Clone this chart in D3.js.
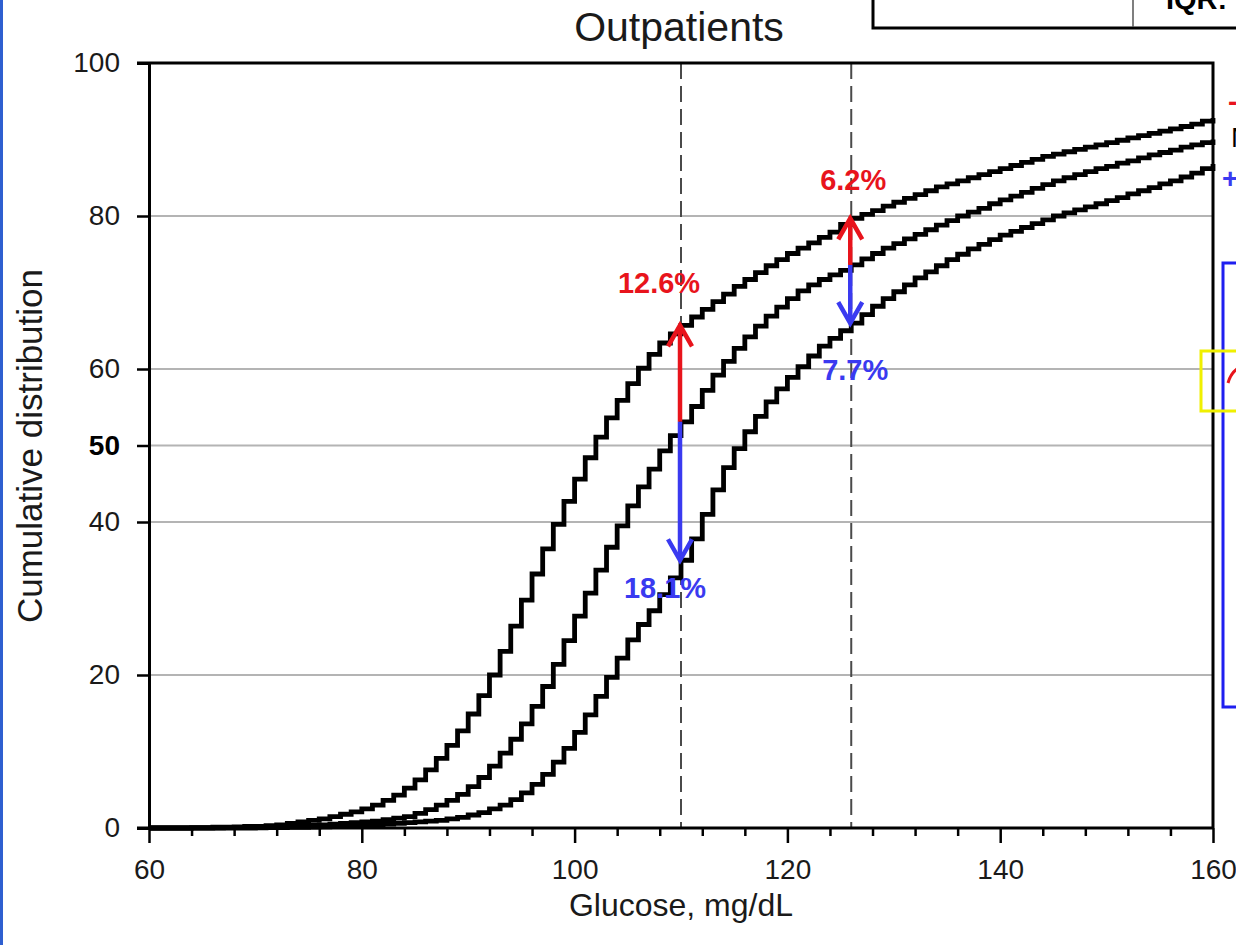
<!DOCTYPE html>
<html><head><meta charset="utf-8">
<script src="https://cdn.jsdelivr.net/npm/d3@7"></script>
<style>
body{margin:0;background:#fff;}
svg{display:block;}
text{font-family:"Liberation Sans",Arial,Helvetica,sans-serif;}
</style>
</head><body>
<svg id="c" width="1236" height="945"></svg>
<script>
// Glucose values (mg/dL), one step per integer
const glucose = [60,61,62,63,64,65,66,67,68,69,70,71,72,73,74,75,76,77,78,79,
 80,81,82,83,84,85,86,87,88,89,90,91,92,93,94,95,96,97,98,99,
 100,101,102,103,104,105,106,107,108,109,110,111,112,113,114,115,116,117,118,119,
 120,121,122,123,124,125,126,127,128,129,130,131,132,133,134,135,136,137,138,139,
 140,141,142,143,144,145,146,147,148,149,150,151,152,153,154,155,156,157,158,159,160];

// Cumulative distribution (%) – shifted lower (left curve)
const cdfLow = [0,0,0,0,0.05,0.05,0.1,0.1,0.15,0.2,0.2,0.3,0.4,0.6,0.8,1.0,1.2,1.5,1.8,2.1,
 2.5,3.0,3.6,4.3,5.2,6.3,7.6,9.1,10.8,12.7,14.9,17.3,20.0,23.1,26.4,29.8,33.2,36.5,39.7,42.7,
 45.6,48.4,51.1,53.6,55.9,58.1,60.1,61.9,63.4,64.6,65.7,66.8,67.8,68.8,69.8,70.8,71.7,72.6,73.5,74.3,
 75.1,75.8,76.5,77.2,77.9,78.9,79.7,80.2,80.7,81.3,81.8,82.3,82.8,83.3,83.8,84.2,84.6,85.0,85.4,85.8,
 86.2,86.6,87.0,87.4,87.8,88.1,88.4,88.7,89.0,89.3,89.6,89.9,90.2,90.5,90.8,91.1,91.4,91.7,92.0,92.4,92.8];

// Measured (middle curve)
const cdfMeasured = [0,0,0,0,0,0,0.02,0.05,0.05,0.1,0.1,0.15,0.2,0.25,0.3,0.35,0.4,0.5,0.6,0.7,
 0.8,0.9,1.1,1.3,1.5,1.9,2.4,3.0,3.6,4.4,5.4,6.6,8.1,9.8,11.6,13.6,15.9,18.5,21.4,24.5,
 27.7,30.7,33.7,36.7,39.5,42.1,44.6,46.9,49.3,51.3,53.1,55.1,57.2,59.2,61.0,62.7,64.2,65.6,66.9,68.1,
 69.2,70.2,71.0,71.7,72.3,72.9,73.6,74.4,75.1,75.8,76.4,77.0,77.6,78.2,78.8,79.4,80.0,80.5,81.0,81.6,
 82.1,82.6,83.1,83.6,84.1,84.6,85.0,85.4,85.8,86.2,86.5,86.9,87.2,87.6,88.0,88.3,88.6,89.0,89.3,89.6,90.0];

// Shifted higher (right curve)
const cdfHigh = [0,0,0,0,0,0,0,0,0,0,0.02,0.04,0.06,0.08,0.1,0.12,0.15,0.2,0.25,0.3,
 0.35,0.4,0.5,0.6,0.7,0.8,0.9,1.0,1.2,1.4,1.7,2.0,2.5,3.0,3.7,4.6,5.7,7.0,8.6,10.4,
 12.5,14.8,17.2,19.7,22.2,24.6,26.6,28.4,30.5,32.7,35.0,37.8,41.0,44.2,47.1,49.6,51.8,53.8,55.7,57.4,
 58.9,60.3,61.7,63.0,64.0,65.0,66.0,67.1,68.2,69.2,70.1,71.0,71.9,72.7,73.5,74.3,75.0,75.7,76.3,76.9,
 77.5,78.0,78.5,79.0,79.5,80.0,80.4,80.8,81.2,81.6,82.0,82.4,82.9,83.3,83.7,84.2,84.6,85.1,85.6,86.2,86.8];

const xTicks = [60,80,100,120,140,160];
const xMinorTicks = [64,68,72,76,84,88,92,96,104,108,112,116,124,128,132,136,144,148,152,156];
const yTicks = [0,20,40,50,60,80,100];
const gridValues = [20,40,50,60,80];
const cutoffs = [110,126];
const upLabels = ["12.6%","6.2%"];
const downLabels = ["18.1%","7.7%"];

const svg = d3.select("#c");
const L = 149, R = 1213, T = 63, B = 828;
const x = d3.scaleLinear().domain([60,160]).range([L,R]);
const y = d3.scaleLinear().domain([0,100]).range([B,T]);
const RED = "#e8141c", BLUE = "#3a3af0";

// left blue strip
svg.append("rect").attr("x",0).attr("y",0).attr("width",3).attr("height",945).attr("fill","#2f5fd0");

// gridlines
svg.append("g").selectAll("line").data(gridValues).join("line")
  .attr("x1",L).attr("x2",R).attr("y1",d=>y(d)).attr("y2",d=>y(d))
  .attr("stroke","#b4b4b4").attr("stroke-width",2);

// dashed cutoff lines
svg.append("g").selectAll("line").data(cutoffs).join("line")
  .attr("x1",d=>x(d)).attr("x2",d=>x(d)).attr("y1",T).attr("y2",B)
  .attr("stroke","#4a4a4a").attr("stroke-width",2).attr("stroke-dasharray","16,7");

// step curves
const line = d3.line().x((d,i)=>x(glucose[i])).y(d=>y(d)).curve(d3.curveStepAfter);
[cdfLow, cdfMeasured, cdfHigh].forEach(s=>{
  svg.append("path").attr("d",line(s)).attr("fill","none")
    .attr("stroke","#000").attr("stroke-width",4.8).attr("stroke-linejoin","miter");
});

// arrows
function arrow(xv, from, to, color){
  const px = x(xv)-1, y0 = y(from), y1 = y(to);
  const dir = y1 < y0 ? 1 : -1; // 1 = pointing up
  svg.append("line").attr("x1",px).attr("x2",px).attr("y1",y0).attr("y2",y1+dir*2)
    .attr("stroke",color).attr("stroke-width",4.5);
  svg.append("polyline")
    .attr("points",`${px-12},${y1+dir*21} ${px},${y1} ${px+12},${y1+dir*21}`)
    .attr("fill","none").attr("stroke",color).attr("stroke-width",4.5).attr("stroke-linejoin","miter");
}
cutoffs.forEach(c=>{
  const i = glucose.indexOf(c);
  arrow(c, cdfMeasured[i], cdfLow[i], RED);
  arrow(c, cdfMeasured[i], cdfHigh[i], BLUE);
});

// annotation labels
const ann = svg.append("g").attr("font-weight","bold").attr("font-size",29).attr("text-anchor","middle");
ann.append("text").attr("x",x(cutoffs[0])-22).attr("y",293).attr("fill",RED).text(upLabels[0]);
ann.append("text").attr("x",x(cutoffs[1])+2).attr("y",190).attr("fill",RED).text(upLabels[1]);
ann.append("text").attr("x",x(cutoffs[0])-16).attr("y",598).attr("fill",BLUE).text(downLabels[0]);
ann.append("text").attr("x",x(cutoffs[1])+4).attr("y",380).attr("fill",BLUE).text(downLabels[1]);

// axes
const gx = svg.append("g").attr("transform",`translate(0,${B})`)
  .call(d3.axisBottom(x).tickValues(xTicks).tickSize(15).tickPadding(16).tickFormat(d3.format("d")));
const gxm = svg.append("g").attr("transform",`translate(0,${B})`)
  .call(d3.axisBottom(x).tickValues(xMinorTicks).tickSize(8).tickFormat(""));
const gy = svg.append("g").attr("transform",`translate(${L},0)`)
  .call(d3.axisLeft(y).tickValues(yTicks).tickSize(12).tickPadding(17).tickFormat(d3.format("d")));
[gx,gxm,gy].forEach(g=>{
  g.select(".domain").attr("stroke","#000").attr("stroke-width",3);
  g.selectAll(".tick line").attr("stroke","#000").attr("stroke-width",2.5);
  g.selectAll(".tick text").attr("font-size",28).attr("fill","#1a1a1a")
    .attr("font-family",'"Liberation Sans",Arial,sans-serif');
});
gx.select(".domain").attr("d",`M${L-12},0H${R}`);
gxm.select(".domain").remove();
gy.selectAll(".tick text").filter(d=>d===50).attr("font-weight","bold").attr("fill","#000");
// top and right frame
svg.append("path").attr("d",`M${L-12},${T}H${R}V${B}`).attr("fill","none")
  .attr("stroke","#000").attr("stroke-width",3);

// titles
svg.append("text").attr("x",679).attr("y",41).attr("text-anchor","middle")
  .attr("font-size",41).attr("fill","#1a1a1a").text("Outpatients");
svg.append("text").attr("x",681).attr("y",916).attr("text-anchor","middle")
  .attr("font-size",32).attr("fill","#1a1a1a").text("Glucose, mg/dL");
svg.append("text").attr("transform","translate(42,446) rotate(-90)").attr("text-anchor","middle")
  .attr("font-size",35).attr("fill","#1a1a1a").text("Cumulative distribution");

// top-right table fragment
svg.append("path").attr("d","M873,-5V28H1240").attr("fill","none").attr("stroke","#000").attr("stroke-width",3);
svg.append("line").attr("x1",1133).attr("x2",1133).attr("y1",0).attr("y2",27).attr("stroke","#555").attr("stroke-width",1.5);
svg.append("text").attr("x",1166).attr("y",9).attr("font-size",29).attr("font-weight","bold").attr("fill","#000").text("IQR:");

// right legend fragments
svg.append("text").attr("x",1228).attr("y",111).attr("font-size",28).attr("font-weight","bold").attr("fill",RED).text("-5%");
svg.append("text").attr("x",1231).attr("y",147).attr("font-size",28).attr("fill","#000").text("Measured");
svg.append("text").attr("x",1222).attr("y",188).attr("font-size",28).attr("font-weight","bold").attr("fill",BLUE).text("+5%");

// side boxes
svg.append("path").attr("d","M1240,263H1223V707H1240").attr("fill","none").attr("stroke","#1f1ff0").attr("stroke-width",3);
svg.append("path").attr("d","M1240,351H1201V411H1240").attr("fill","none").attr("stroke","#f0f000").attr("stroke-width",3);
svg.append("path").attr("d","M1228,383Q1231,372 1240,367").attr("fill","none").attr("stroke",RED).attr("stroke-width",3);
</script>
</body></html>
